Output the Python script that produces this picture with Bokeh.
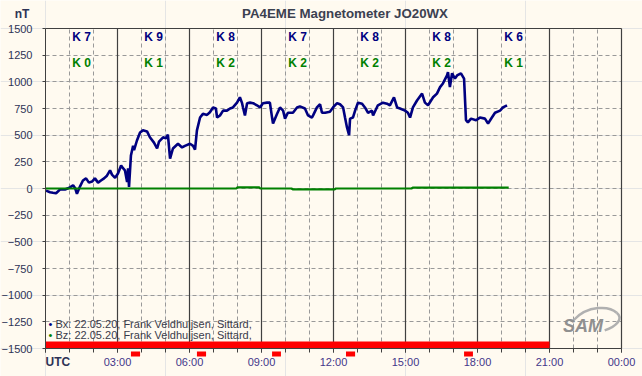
from bokeh.plotting import figure
from bokeh.models import (Range1d, FixedTicker, Grid, Label, ColumnDataSource, LinearAxis)
from bokeh.core.properties import value
from bokeh.embed import file_html
from bokeh.resources import INLINE

FONT = "Liberation Sans"

# ---- data (hours UTC, nT) ----
bx_hours = [0.02, 0.19, 0.31, 0.44, 0.60, 0.81, 1.02, 1.15, 1.23, 1.31, 1.44, 1.56, 1.69, 1.81,
            1.94, 2.06, 2.19, 2.31, 2.44, 2.56, 2.69, 2.77, 2.90, 3.02, 3.15, 3.23, 3.31, 3.40,
            3.44, 3.48, 3.56, 3.65, 3.69, 3.81, 3.94, 4.06, 4.23, 4.35, 4.52, 4.65, 4.73, 4.90,
            5.02, 5.10, 5.19, 5.31, 5.52, 5.69, 5.81, 6.02, 6.15, 6.23, 6.31, 6.44, 6.56, 6.73,
            6.85, 6.98, 7.10, 7.15, 7.27, 7.40, 7.56, 7.69, 7.81, 7.98, 8.10, 8.19, 8.23, 8.31,
            8.40, 8.52, 8.65, 8.81, 8.94, 9.06, 9.23, 9.35, 9.44, 9.48, 9.65, 9.77, 9.90, 9.98,
            10.10, 10.31, 10.48, 10.60, 10.81, 10.94, 11.10, 11.15, 11.31, 11.44, 11.52, 11.65,
            11.85, 11.98, 12.15, 12.27, 12.40, 12.48, 12.56, 12.65, 12.69, 12.81, 12.90, 13.02,
            13.19, 13.31, 13.44, 13.60, 13.65, 13.85, 14.06, 14.23, 14.35, 14.52, 14.65, 14.77,
            14.98, 15.10, 15.19, 15.31, 15.48, 15.69, 15.81, 15.94, 16.15, 16.31, 16.44, 16.56,
            16.73, 16.77, 16.85, 16.94, 17.06, 17.15, 17.31, 17.44, 17.52, 17.60, 17.73, 17.94,
            18.10, 18.31, 18.44, 18.60, 18.73, 18.94, 19.06, 19.23]
bx_values = [-20, -35, -40, -45, -10, -10, 10, 30, 5, -50, 20, 75, 95, 55,
             65, 95, 55, 75, 95, 120, 170, 130, 100, 140, 215, 190, 170, 60,
             190, 15, 310, 400, 360, 450, 525, 545, 535, 480, 430, 375, 440, 480,
             470, 505, 280, 375, 420, 385, 400, 420, 400, 365, 545, 665, 700, 690,
             715, 760, 750, 665, 685, 730, 730, 750, 760, 805, 855, 800, 760, 685,
             800, 805, 800, 780, 760, 800, 805, 805, 665, 610, 700, 760, 730, 655,
             710, 710, 760, 770, 750, 685, 665, 685, 760, 790, 710, 710,
             720, 760, 800, 790, 760, 665, 575, 500, 655, 665, 730, 805,
             795, 760, 710, 730, 685, 780, 805, 795, 780, 855, 760, 750,
             730, 710, 665, 760, 825, 890, 805, 780, 855, 890, 950, 985,
             1060, 1090, 950, 1080, 1030, 1060, 1080, 1030, 640, 620, 655, 640,
             665, 655, 610, 665, 710, 730, 760, 780]

bz_hours = [0.0, 2.0, 4.0, 6.0, 7.95, 8.0, 8.9, 8.95, 10.25, 10.3, 12.05, 12.1, 15.25, 15.3, 19.3]
bz_values = [0, 0, 0, 0, 0, 10, 10, 0, 0, -8, -8, 0, 0, 8, 8]

k_hours = [1.5, 4.5, 7.5, 10.5, 13.5, 16.5, 19.5]
k_bx = [7, 9, 8, 7, 8, 8, 6]
k_bz = [0, 1, 2, 2, 2, 2, 1]

coverage_start = [0.0]
coverage_end = [21.0]
mark_starts = [3.56, 6.31, 9.44, 12.52, 17.44]
mark_ends = [3.94, 6.69, 9.81, 12.90, 17.81]

y_ticks = list(range(-1500, 1501, 250))
x_ticks = list(range(0, 25, 3))
x_tick_labels = ["", "03:00", "06:00", "09:00", "12:00", "15:00", "18:00", "21:00", "00:00"]
hour_ticks = [h for h in range(25) if h % 3 != 0]
solid_ticks = [h for h in range(3, 25, 3)]

Y_MIN, Y_MAX = -1500, 1500
X_MIN, X_MAX = 0, 24

BG = "#fffaf0"
AX = "#404040"

# frame covers the whole canvas; the plot box is drawn with bounded axes and grids
p = figure(width=642, height=376, output_backend="svg", toolbar_location=None,
           x_range=Range1d(-45 / 24, (642 - 45) / 24), y_range=Range1d(-1762.5, 1762.5),
           x_axis_location=None, y_axis_location=None, min_border=0)
p.background_fill_color = BG
p.border_fill_color = BG
p.outline_line_color = None

# axes at fixed locations
yax = LinearAxis(fixed_location=X_MIN, bounds=(Y_MIN, Y_MAX))
yax.ticker = FixedTicker(ticks=y_ticks)
yax.major_tick_out = 3
yax.major_tick_in = 0
yax.minor_tick_out = 0
yax.major_label_standoff = 10
yax.axis_line_color = AX
yax.major_tick_line_color = AX
yax.major_label_text_font = FONT
yax.major_label_text_font_size = "11px"
yax.major_label_text_color = "#2e3356"
p.add_layout(yax, "left")

xax = LinearAxis(fixed_location=Y_MIN, bounds=(X_MIN, X_MAX))
xax.ticker = FixedTicker(ticks=x_ticks, minor_ticks=list(range(25)))
xax.major_tick_out = 4
xax.major_tick_in = 0
xax.minor_tick_out = 4
xax.minor_tick_in = 0
xax.major_label_standoff = 3
xax.axis_line_color = AX
xax.major_tick_line_color = AX
xax.minor_tick_line_color = AX
xax.major_label_overrides = {t: lab for t, lab in zip(x_ticks, x_tick_labels)}
xax.major_label_text_font = FONT
xax.major_label_text_font_size = "11px"
xax.major_label_text_color = "#44378a"
p.add_layout(xax, "below")

# grids, limited to the plot box
YB = (Y_MIN - 100, Y_MAX + 100)
XB = (X_MIN - 1, X_MAX + 1)
p.add_layout(Grid(dimension=1, ticker=FixedTicker(ticks=y_ticks[1:-1]), bounds=YB,
                  cross_bounds=(X_MIN, X_MAX), grid_line_color="#999999", grid_line_dash="4 3"))
p.add_layout(Grid(dimension=0, ticker=FixedTicker(ticks=hour_ticks), bounds=XB,
                  cross_bounds=(Y_MIN, Y_MAX), grid_line_color="#999999", grid_line_dash="4 3"))
p.add_layout(Grid(dimension=0, ticker=FixedTicker(ticks=solid_ticks), bounds=XB,
                  cross_bounds=(Y_MIN, Y_MAX), grid_line_color=AX, grid_line_width=1.2))
p.add_layout(Grid(dimension=1, ticker=FixedTicker(ticks=[Y_MAX]), bounds=YB,
                  cross_bounds=(X_MIN, X_MAX), grid_line_color=AX, grid_line_width=1.2))

# coverage bar
p.quad(left=coverage_start, right=coverage_end, bottom=[-1500], top=[-1435],
       fill_color="#ff0000", line_color=None)

# small red marks below the axis
p.quad(left=mark_starts, right=mark_ends, bottom=[-1575] * len(mark_starts),
       top=[-1528] * len(mark_starts), fill_color="#ff0000", line_color=None)

# data lines
p.line(bx_hours, bx_values, line_color="#000080", line_width=2.6)
p.line(bz_hours, bz_values, line_color="#008000", line_width=2.2)

# K indices
ksrc = ColumnDataSource(dict(x=k_hours, bx=[f"K {k}" for k in k_bx], bz=[f"K {k}" for k in k_bz],
                             ybx=[1425] * len(k_hours), ybz=[1180] * len(k_hours)))
p.text(x="x", y="ybx", text="bx", source=ksrc, text_font=value(FONT), text_font_style="bold",
       text_font_size="12px", text_color="#000080", text_align="center", text_baseline="middle")
p.text(x="x", y="ybz", text="bz", source=ksrc, text_font=value(FONT), text_font_style="bold",
       text_font_size="12px", text_color="#008000", text_align="center", text_baseline="middle")

# texts
p.add_layout(Label(x=12.48, y=1640, text="PA4EME Magnetometer JO20WX", text_align="center",
                   text_baseline="middle", text_font=FONT, text_font_style="bold",
                   text_font_size="13.3px", text_color="#3c4150"))
p.add_layout(Label(x=-0.98, y=1640, text="nT", text_align="center", text_baseline="middle",
                   text_font=FONT, text_font_style="bold", text_font_size="12px",
                   text_color="#2e3356"))
p.add_layout(Label(x=0, y=-1622, text="UTC", text_align="left", text_baseline="middle",
                   text_font=FONT, text_font_style="bold", text_font_size="12px",
                   text_color="#2e3356"))

legend_rows = [("Bx: 22.05.20, Frank Veldhuijsen, Sittard,", "#000080", -1266),
               ("Bz: 22.05.20, Frank Veldhuijsen, Sittard,", "#008000", -1378)]
for txt, col, yv in legend_rows:
    p.add_layout(Label(x=0, y=yv, x_offset=3, text="\u2022", text_baseline="middle",
                       text_font=FONT, text_font_size="11px", text_color=col))
    p.add_layout(Label(x=0, y=yv, x_offset=10, text=txt, text_baseline="middle",
                       text_font=FONT, text_font_size="11px", text_color="#3a3a4a"))

# SAM logo (text plus swoosh)
p.bezier(x0=[22.0], y0=[-1235], x1=[23.8], y1=[-1165], cx0=[22.6], cy0=[-1090],
         cx1=[23.5], cy1=[-1100], line_color="#b0b0b0", line_width=2.5)
p.bezier(x0=[23.8], y0=[-1165], x1=[23.3], y1=[-1330], cx0=[24.1], cy0=[-1220],
         cx1=[23.8], cy1=[-1290], line_color="#b0b0b0", line_width=2.5)
p.add_layout(Label(x=22.4, y=-1290, text="SAM", text_align="center", text_baseline="middle",
                   text_font=FONT, text_font_style="bold italic", text_font_size="18px",
                   text_color="#909090"))

open("out.html", "w").write(file_html(p, INLINE))
